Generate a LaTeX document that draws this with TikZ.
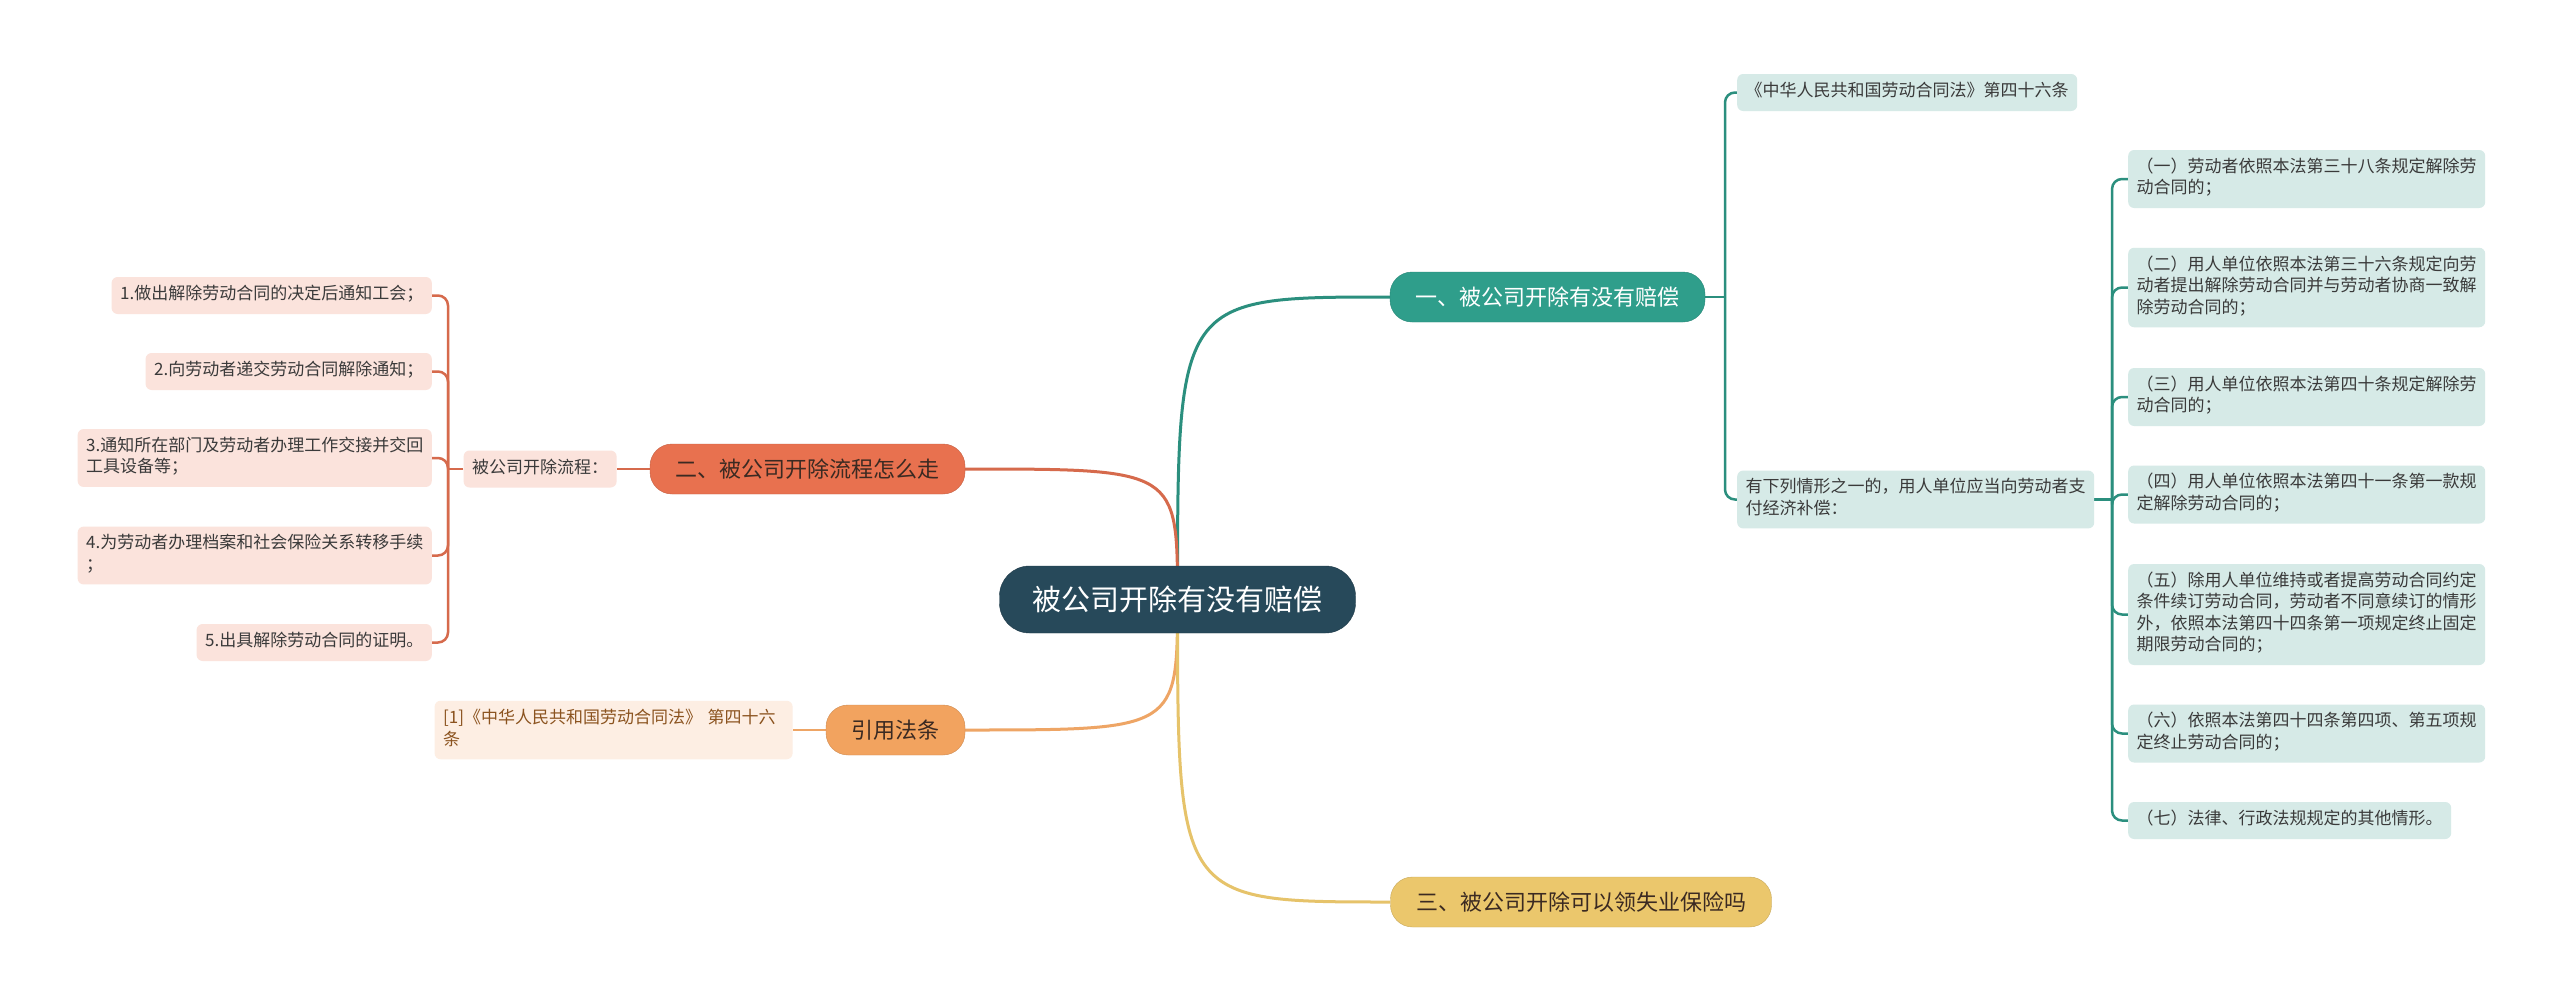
\documentclass[tikz,border=0pt]{standalone}
\usepackage{fontspec}
\setmainfont{Noto Sans CJK SC}
\usepackage{tikz}
\usetikzlibrary{positioning,backgrounds}
\usepackage{xcolor}
\definecolor{rootblue}{RGB}{39,73,90}
\definecolor{mainteal}{RGB}{47,158,139}
\definecolor{mainred}{RGB}{232,113,79}
\definecolor{mainorange}{RGB}{242,163,95}
\definecolor{mainyellow}{RGB}{235,199,108}
\definecolor{softteal}{RGB}{214,234,231}
\definecolor{softpink}{RGB}{251,227,220}
\definecolor{softpeach}{RGB}{253,238,227}
\definecolor{linkteal}{RGB}{43,143,126}
\definecolor{linkred}{RGB}{214,106,76}
\definecolor{linkorange}{RGB}{238,165,101}
\definecolor{linkyellow}{RGB}{230,195,106}
\definecolor{leaftext}{RGB}{58,58,58}
\definecolor{darktext}{RGB}{59,42,34}
\definecolor{refbrown}{RGB}{139,83,31}
\tikzset{
  rootnode/.style={rectangle, rounded corners=30pt, draw=rootblue!80!black, fill=rootblue, text=white,
                   minimum height=67pt, inner xsep=33pt, font=\fontsize{29}{34}\selectfont},
  branch/.style={rectangle, rounded corners=22pt, minimum height=50pt, inner xsep=25.5pt,
                 font=\fontsize{22}{26}\selectfont},
  branchteal/.style={branch, draw=mainteal!85!black, fill=mainteal, text=white},
  branchred/.style={branch, draw=mainred!85!black, fill=mainred, text=darktext},
  branchorange/.style={branch, draw=mainorange!85!black, fill=mainorange, text=darktext},
  branchyellow/.style={branch, draw=mainyellow!85!black, fill=mainyellow, text=darktext},
  leaf/.style={rectangle, rounded corners=6pt, align=left, inner xsep=8.5pt, inner ysep=7.75pt,
               font=\fontsize{17}{21.5}\selectfont, execute at begin node=\strut, execute at end node=\strut},
  leafteal/.style={leaf, fill=softteal, text=leaftext},
  leafred/.style={leaf, fill=softpink, text=leaftext},
  leafref/.style={leaf, fill=softpeach, text=refbrown, text width=341pt},
  rootlink/.style={line width=3pt},
  link/.style={line width=2.5pt, rounded corners=10pt},
}
\begin{document}
\begin{tikzpicture}[x=1pt, y=-1pt, node distance=33pt]
\useasboundingbox (0,0) rectangle (2560,1001);
\node[rootnode] (root) at (1177.5,599.5) {被公司开除有没有赔偿};
\node[branchteal] (b1) at (1547.5,297) {一、被公司开除有没有赔偿};
\node[branchred] (b2) at (807.5,469) {二、被公司开除流程怎么走};
\node[branchorange] (cite) at (895.5,730) {引用法条};
\node[branchyellow] (b3) at (1581,902) {三、被公司开除可以领失业保险吗};

\node[leafred, left=of b2] (proc) {被公司开除流程：};
\node[leafred, anchor=east] (l1) at (432,295.5) {1.做出解除劳动合同的决定后通知工会；};
\node[leafred, anchor=east] (l2) at (432,371.5) {2.向劳动者递交劳动合同解除通知；};
\node[leafred, anchor=east] (l3) at (432,458) {3.通知所在部门及劳动者办理工作交接并交回\\工具设备等；};
\node[leafred, anchor=east] (l4) at (432,555.5) {4.为劳动者办理档案和社会保险关系转移手续\\；};
\node[leafred, anchor=east] (l5) at (432,642.5) {5.出具解除劳动合同的证明。};

\node[leafref, left=of cite] (ref) {[1]《中华人民共和国劳动合同法》 第四十六\\条};

\node[leafteal, anchor=west] (r1) at (1737,92.5) {《中华人民共和国劳动合同法》第四十六条};
\node[leafteal, anchor=west] (r2) at (1737,499.5) {有下列情形之一的，用人单位应当向劳动者支\\付经济补偿：};
\node[leafteal, anchor=west] (s1) at (2128,179) {（一）劳动者依照本法第三十八条规定解除劳\\动合同的；};
\node[leafteal, anchor=west] (s2) at (2128,287.5) {（二）用人单位依照本法第三十六条规定向劳\\动者提出解除劳动合同并与劳动者协商一致解\\除劳动合同的；};
\node[leafteal, anchor=west] (s3) at (2128,397) {（三）用人单位依照本法第四十条规定解除劳\\动合同的；};
\node[leafteal, anchor=west] (s4) at (2128,494.5) {（四）用人单位依照本法第四十一条第一款规\\定解除劳动合同的；};
\node[leafteal, anchor=west] (s5) at (2128,614.5) {（五）除用人单位维持或者提高劳动合同约定\\条件续订劳动合同，劳动者不同意续订的情形\\外，依照本法第四十四条第一项规定终止固定\\期限劳动合同的；};
\node[leafteal, anchor=west] (s6) at (2128,733.5) {（六）依照本法第四十四条第四项、第五项规\\定终止劳动合同的；};
\node[leafteal, anchor=west] (s7) at (2128,820.5) {（七）法律、行政法规规定的其他情形。};

\coordinate (lj) at (448,469);
\coordinate (tj) at (1725,297);
\coordinate (sj) at (2112,499.5);

\begin{scope}[on background layer]
\fill[white] (0,0) rectangle (2560,1001);
\draw[rootlink, linkteal] (root.center) .. controls (root.center |- b1.west) .. (b1.west);
\draw[rootlink, linkred] (root.center) .. controls (root.center |- b2.east) .. (b2.east);
\draw[rootlink, linkorange] (root.center) .. controls (root.center |- cite.east) .. (cite.east);
\draw[rootlink, linkyellow] (root.center) .. controls (root.center |- b3.west) .. (b3.west);

\draw[link, linkred] (b2.west) -- (proc.east);
\draw[link, linkred] (proc.west) -- (lj);
\foreach \n in {l1,l2,l3,l4,l5}
  \draw[link, linkred] (lj) |- (\n.east);
\draw[link, linkorange] (cite.west) -- (ref.east);

\draw[link, linkteal] (b1.east) -- (tj);
\draw[link, linkteal] (tj) |- (r1.west);
\draw[link, linkteal] (tj) |- (r2.west);
\draw[link, linkteal] (r2.east) -- (sj);
\foreach \n in {s1,s2,s3,s4,s5,s6,s7}
  \draw[link, linkteal] (sj) |- (\n.west);
\end{scope}
\end{tikzpicture}
\end{document}
